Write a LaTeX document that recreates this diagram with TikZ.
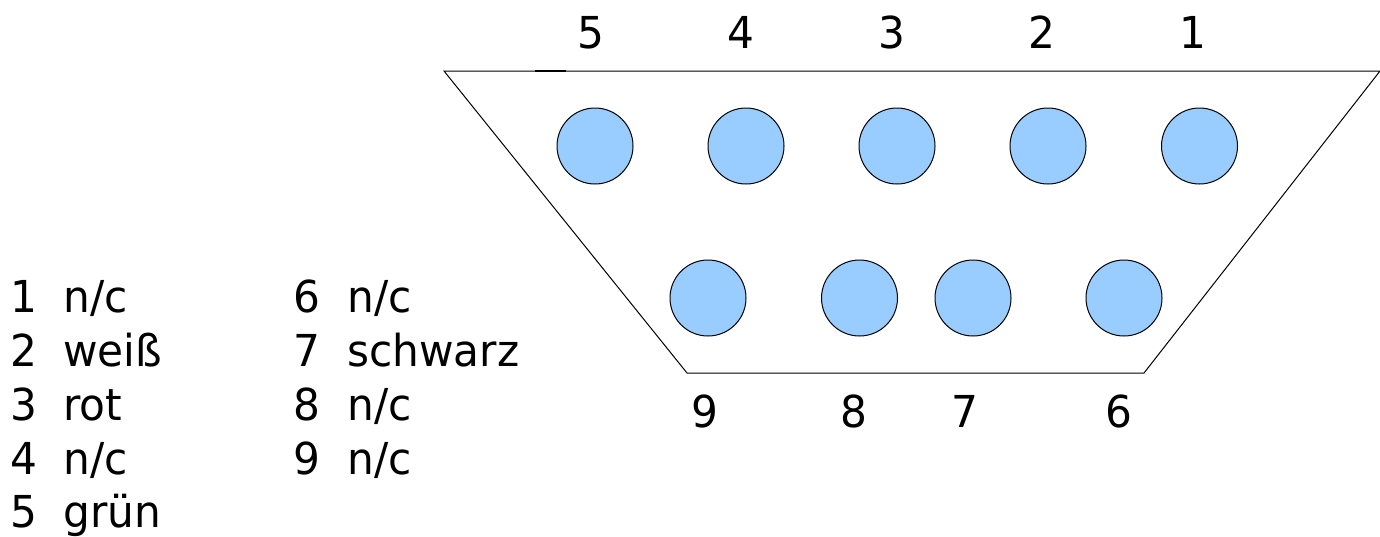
\documentclass[tikz,border=0pt]{standalone}
\usepackage{fontspec}
\setmainfont[FakeStretch=0.96]{DejaVu Sans}
\newlength{\pxu}\setlength{\pxu}{0.75pt}
\definecolor{pinblue}{RGB}{153,204,255}
\tikzset{pin/.style={circle,draw=black,fill=pinblue,line width=0.75pt,minimum size=76\pxu,inner sep=0pt},
lab/.style={font=\fontsize{33}{33}\selectfont,inner sep=0pt,anchor=base},
leg/.style={font=\fontsize{33}{33}\selectfont,inner sep=0pt,anchor=base west}}
\begin{document}
\begin{tikzpicture}[x=\pxu,y=-\pxu]
\useasboundingbox (0,0) rectangle (1380,536);
\coordinate (a) at (444,71);\coordinate (b) at (1380,71);\coordinate (c) at (1144,373);\coordinate (d) at (687,373);
\draw[line width=0.75pt] (a)--(b)--(c)--(d)--cycle;
\coordinate (m1) at (535,71);\coordinate (m2) at (566,71);
\draw[line width=1pt] (m1)--(m2);
\node[pin] (p5) at (595,146) {};
\node[pin] (p4) at (746,146) {};
\node[pin] (p3) at (897,146) {};
\node[pin] (p2) at (1048,146) {};
\node[pin] (p1) at (1199.5,146) {};
\node[pin] (p9) at (708,298) {};
\node[pin] (p8) at (859.5,298) {};
\node[pin] (p7) at (973,298) {};
\node[pin] (p6) at (1124,298) {};
\foreach \n/\x in {5/591,4/741,3/892,2/1042,1/1193}{\node[lab] (t\n) at (\x,48) {\n};}
\foreach \n/\x in {9/705,8/854,7/965,6/1119}{\node[lab] (t\n) at (\x,427) {\n};}
\node[leg] (l1) at (10,312) {1};\node[leg] (l1t) at (63,312) {n/c};
\node[leg] (l2) at (10,366) {2};\node[leg] (l2t) at (63,366) {weiß};
\node[leg] (l3) at (10,420) {3};\node[leg] (l3t) at (63,420) {rot};
\node[leg] (l4) at (10,474) {4};\node[leg] (l4t) at (63,474) {n/c};
\node[leg] (l5) at (10,527) {5};\node[leg] (l5t) at (63,527) {grün};
\node[leg] (r6) at (293,312) {6};\node[leg] (r6t) at (347,312) {n/c};
\node[leg] (r7) at (293,366) {7};\node[leg] (r7t) at (347,366) {schwarz};
\node[leg] (r8) at (293,420) {8};\node[leg] (r8t) at (347,420) {n/c};
\node[leg] (r9) at (293,474) {9};\node[leg] (r9t) at (347,474) {n/c};
\end{tikzpicture}
\end{document}
